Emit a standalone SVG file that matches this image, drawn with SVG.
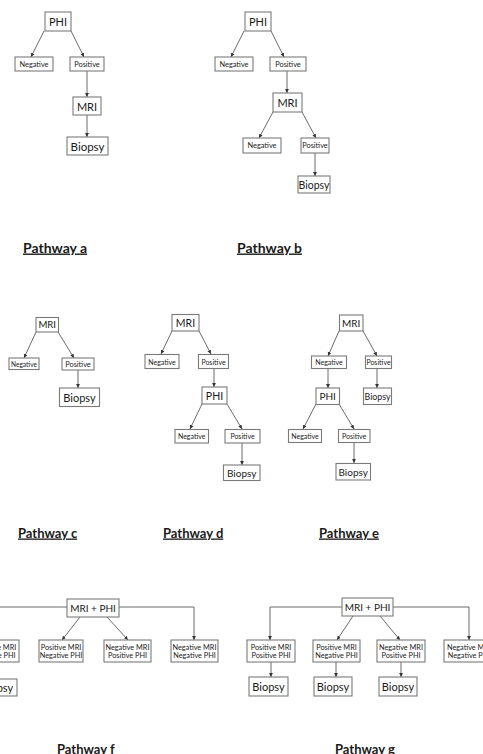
<svg xmlns="http://www.w3.org/2000/svg" width="483" height="754" viewBox="0 0 483 754">
<style>
rect{fill:#fff;stroke:#7a7a7a;stroke-width:1.1}
text{font-family:Lato,"Open Sans","Liberation Sans",sans-serif;fill:#1a1a1a;text-anchor:middle;dominant-baseline:central}
.s{font-size:7.4px}
.m{font-size:7px}
.b{font-size:11px}
.t{font-size:7.3px}
.lbl{font-size:14px;font-weight:bold;text-anchor:start;dominant-baseline:alphabetic;text-decoration:underline}
#connectors path{fill:none;stroke:#5a5a5a;stroke-width:0.9;marker-end:url(#ah)}
</style>
<defs>
<marker id="ah" markerUnits="userSpaceOnUse" markerWidth="5" markerHeight="5" refX="4" refY="2.5" orient="auto">
<path d="M0,0.6 L4,2.5 L0,4.4 Z" fill="#333"/>
</marker>
</defs>
<g id="connectors">
<path d="M44,31 L31,57"/>
<path d="M71,31 L84,57"/>
<path d="M87,71 L87,97"/>
<path d="M87,115 L87,137"/>
<path d="M244,31 L231,57"/>
<path d="M271,31 L284,57"/>
<path d="M287,71 L287,93"/>
<path d="M273,112 L259,138"/>
<path d="M302,112 L316,138"/>
<path d="M315,153 L315,176"/>
<path d="M36,332 L24,358"/>
<path d="M58,332 L74,358"/>
<path d="M78,370 L78,388"/>
<path d="M172,331 L161,354"/>
<path d="M199,331 L211,354"/>
<path d="M214,368 L214,387"/>
<path d="M202,404 L190,429"/>
<path d="M227,404 L242,429"/>
<path d="M242,443 L242,465"/>
<path d="M339,331 L328,356"/>
<path d="M363,331 L377,356"/>
<path d="M328,368 L328,388"/>
<path d="M377,368 L377,388"/>
<path d="M316,404 L303,429"/>
<path d="M339,404 L354,429"/>
<path d="M354,442 L354,463"/>
<path d="M67,607 L-4,607 L-4,640"/>
<path d="M119,607 L194,607 L194,640"/>
<path d="M80,617 L62,640"/>
<path d="M107,617 L128,640"/>
<path d="M-4,662 L-4,679"/>
<path d="M342,607 L270,607 L270,640"/>
<path d="M393,607 L469,607 L469,640"/>
<path d="M353,616 L337,640"/>
<path d="M380,616 L400,640"/>
<path d="M271,662 L271,677"/>
<path d="M336,662 L336,677"/>
<path d="M401,662 L401,677"/>
</g>

<!-- Pathway a -->
<g id="a-phi"><rect x="45" y="12" width="26" height="19"/><text class="b" x="58" y="21.5">PHI</text></g>
<g id="a-neg"><rect x="15" y="57" width="38" height="14"/><text class="s" x="34" y="64">Negative</text></g>
<g id="a-pos"><rect x="70" y="57" width="34" height="14"/><text class="s" x="87" y="64">Positive</text></g>
<g id="a-mri"><rect x="73" y="97" width="28" height="18"/><text class="b" x="87" y="106">MRI</text></g>
<g id="a-biopsy"><rect x="67" y="137" width="41" height="18"/><text class="b" x="87.5" y="146" style="font-size:11.5px">Biopsy</text></g>
<text id="label-a" class="lbl" x="23" y="252.5">Pathway a</text>

<!-- Pathway b -->
<g id="b-phi"><rect x="245" y="12" width="26" height="19"/><text class="b" x="258" y="21.5">PHI</text></g>
<g id="b-neg"><rect x="215" y="57" width="38" height="14"/><text class="s" x="234" y="64">Negative</text></g>
<g id="b-pos"><rect x="270" y="57" width="36" height="14"/><text class="s" x="288" y="64">Positive</text></g>
<g id="b-mri"><rect x="273" y="93" width="29" height="19"/><text class="b" x="287.5" y="102.5">MRI</text></g>
<g id="b-neg2"><rect x="243" y="138" width="38" height="15"/><text class="s" x="262" y="145.5">Negative</text></g>
<g id="b-pos2"><rect x="301" y="138" width="28" height="15"/><text class="s" x="315" y="145.5">Positive</text></g>
<g id="b-biopsy"><rect x="298" y="176" width="32" height="17"/><text class="b" x="314" y="184.5" style="font-size:10.5px">Biopsy</text></g>
<text id="label-b" class="lbl" x="237" y="252.5">Pathway b</text>

<!-- Pathway c -->
<g id="c-mri"><rect x="36" y="317.5" width="22.5" height="14.5"/><text class="b" x="47.2" y="324.8" style="font-size:9.6px">MRI</text></g>
<g id="c-neg"><rect x="9" y="358" width="30" height="11.5"/><text class="m" x="24" y="363.8" style="font-size:6.6px">Negative</text></g>
<g id="c-pos"><rect x="62" y="358" width="32" height="12"/><text class="s" x="78" y="364">Positive</text></g>
<g id="c-biopsy"><rect x="59.5" y="388" width="40" height="18.5"/><text class="b" x="79.5" y="397.2">Biopsy</text></g>
<text id="label-c" class="lbl" x="18" y="537.5" style="font-size:13px">Pathway c</text>

<!-- Pathway d -->
<g id="d-mri"><rect x="172" y="314.5" width="27" height="16.5"/><text class="b" x="185.5" y="322.8" style="font-size:10.5px">MRI</text></g>
<g id="d-neg"><rect x="145" y="354.5" width="34" height="14"/><text class="m" x="162" y="361.5">Negative</text></g>
<g id="d-pos"><rect x="198.5" y="354.5" width="30" height="14"/><text class="m" x="213.5" y="361.5">Positive</text></g>
<g id="d-phi"><rect x="202" y="387" width="25" height="17"/><text class="b" x="214.5" y="395.5" style="font-size:10.5px">PHI</text></g>
<g id="d-neg2"><rect x="175" y="429.5" width="33.5" height="13.5"/><text class="m" x="191.7" y="436.2">Negative</text></g>
<g id="d-pos2"><rect x="225" y="429.5" width="35" height="13.5"/><text class="m" x="242.5" y="436.2">Positive</text></g>
<g id="d-biopsy"><rect x="223.5" y="465" width="36.5" height="15.5"/><text class="b" x="241.7" y="472.7" style="font-size:10px">Biopsy</text></g>
<text id="label-d" class="lbl" x="163" y="537.5" style="font-size:13px">Pathway d</text>

<!-- Pathway e -->
<g id="e-mri"><rect x="339.5" y="315" width="23.5" height="16"/><text class="b" x="351.2" y="323" style="font-size:10px">MRI</text></g>
<g id="e-neg"><rect x="311.5" y="356" width="35" height="12.5"/><text class="m" x="329" y="362.2">Negative</text></g>
<g id="e-pos"><rect x="365.5" y="356" width="26" height="12.5"/><text class="m" x="378.5" y="362.2">Positive</text></g>
<g id="e-phi"><rect x="316" y="388" width="23.5" height="16.5"/><text class="b" x="327.7" y="396.2" style="font-size:10px">PHI</text></g>
<g id="e-biopsy1"><rect x="363.5" y="388" width="28" height="16.5"/><text class="b" x="377.5" y="396.2" style="font-size:8.8px">Biopsy</text></g>
<g id="e-neg2"><rect x="288.5" y="429.5" width="33" height="13"/><text class="m" x="305" y="436">Negative</text></g>
<g id="e-pos2"><rect x="338.5" y="429.5" width="31.5" height="13"/><text class="m" x="354.2" y="436">Positive</text></g>
<g id="e-biopsy2"><rect x="336" y="463.5" width="34.5" height="16.5"/><text class="b" x="353.2" y="471.7" style="font-size:10px">Biopsy</text></g>
<text id="label-e" class="lbl" x="319" y="537.5" style="font-size:13px">Pathway e</text>

<!-- Pathway f -->
<g id="f-top"><rect x="67" y="599" width="52" height="18"/><text class="b" x="93" y="608" style="font-size:10px">MRI + PHI</text></g>
<g id="f-pp"><rect x="-28" y="640" width="47" height="22"/><text class="t" x="-4" y="647">Positive MRI</text><text class="t" x="-4" y="655.5">Positive PHI</text></g>
<g id="f-pn"><rect x="39" y="640" width="44" height="22"/><text class="t" x="61" y="647">Positive MRI</text><text class="t" x="61" y="655.5">Negative PHI</text></g>
<g id="f-np"><rect x="104" y="640" width="47" height="22"/><text class="t" x="127.5" y="647">Negative MRI</text><text class="t" x="127.5" y="655.5">Positive PHI</text></g>
<g id="f-nn"><rect x="171" y="640" width="47" height="22"/><text class="t" x="194.5" y="647">Negative MRI</text><text class="t" x="194.5" y="655.5">Negative PHI</text></g>
<g id="f-biopsy"><rect x="-23" y="679" width="40" height="17"/><text class="b" x="-3" y="687.5">Biopsy</text></g>
<text id="label-f" class="lbl" x="57" y="754" style="font-size:13px">Pathway f</text>

<!-- Pathway g -->
<g id="g-top"><rect x="342" y="598" width="51" height="18"/><text class="b" x="367.5" y="607" style="font-size:10px">MRI + PHI</text></g>
<g id="g-pp"><rect x="247" y="640" width="48" height="22"/><text class="t" x="271" y="647">Positive MRI</text><text class="t" x="271" y="655.5">Positive PHI</text></g>
<g id="g-pn"><rect x="313" y="640" width="47" height="22"/><text class="t" x="336.5" y="647">Positive MRI</text><text class="t" x="336.5" y="655.5">Negative PHI</text></g>
<g id="g-np"><rect x="377" y="640" width="48" height="22"/><text class="t" x="401" y="647">Negative MRI</text><text class="t" x="401" y="655.5">Positive PHI</text></g>
<g id="g-nn"><rect x="444" y="640" width="50" height="22"/><text class="t" x="469" y="647">Negative MRI</text><text class="t" x="469" y="655.5">Negative PHI</text></g>
<g id="g-biopsy1"><rect x="249" y="677" width="39" height="19"/><text class="b" x="268.5" y="686.5">Biopsy</text></g>
<g id="g-biopsy2"><rect x="314" y="677" width="38" height="19"/><text class="b" x="333" y="686.5">Biopsy</text></g>
<g id="g-biopsy3"><rect x="379" y="677" width="38" height="19"/><text class="b" x="398" y="686.5">Biopsy</text></g>
<text id="label-g" class="lbl" x="335" y="754" style="font-size:13px">Pathway g</text>
</svg>
